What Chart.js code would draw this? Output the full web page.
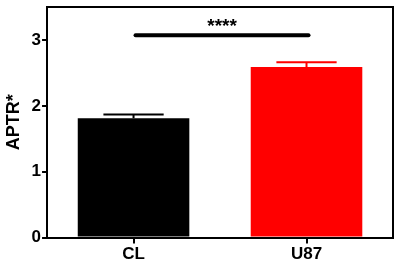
<!DOCTYPE html>
<html>
<head>
<meta charset="utf-8">
<script src="https://cdn.jsdelivr.net/npm/chart.js@4"></script>
<style>
  html, body { margin: 0; padding: 0; background: #fff; }
  #wrap { width: 400px; height: 266px; }
</style>
</head>
<body>
<div id="wrap"><canvas id="chartA"></canvas></div>
<script>
var groups = ['CL', 'U87'];
var means = [1.81, 2.59];
var errors = [0.06, 0.07];
var barColors = ['#000000', '#ff0000'];
var yTicks = [0, 1, 2, 3];
var sigLevel = 3.07;
var sigLabel = '****';

var fontFam = "Arial, 'Liberation Sans', sans-serif";

// error bars, significance bracket, box frame
var extras = {
  id: 'extras',
  afterDatasetsDraw: function (chart) {
    var c = chart.ctx;
    var area = chart.chartArea;
    var ys = chart.scales.y;
    var meta = chart.getDatasetMeta(0);
    c.save();
    meta.data.forEach(function (bar, i) {
      var top = ys.getPixelForValue(means[i] + errors[i]);
      var half = bar.width * 0.27;
      c.strokeStyle = barColors[i];
      c.lineWidth = 2;
      c.beginPath();
      c.moveTo(bar.x, bar.y);
      c.lineTo(bar.x, top);
      c.moveTo(bar.x - half, top);
      c.lineTo(bar.x + half, top);
      c.stroke();
    });
    var sy = ys.getPixelForValue(sigLevel);
    var x0 = meta.data[0].x, x1 = meta.data[1].x;
    c.strokeStyle = '#000';
    c.lineWidth = 4;
    c.lineCap = 'round';
    c.beginPath();
    c.moveTo(x0 + 2, sy);
    c.lineTo(x1 + 2, sy);
    c.stroke();
    c.fillStyle = '#000';
    c.font = 'bold 19px ' + fontFam;
    c.textAlign = 'center';
    c.textBaseline = 'alphabetic';
    c.fillText(sigLabel, (x0 + x1) / 2 + 2, sy - 3);
    c.lineCap = 'butt';
    c.lineWidth = 2;
    c.beginPath();
    c.moveTo(area.left, area.top);
    c.lineTo(area.right, area.top);
    c.lineTo(area.right, area.bottom);
    c.stroke();
    c.restore();
  }
};

var ctx = document.getElementById('chartA').getContext('2d');
var chartA = new Chart(ctx, {
  type: 'bar',
  data: {
    labels: groups,
    datasets: [{
      data: means,
      backgroundColor: barColors,
      borderWidth: 0,
      barPercentage: 0.645,
      categoryPercentage: 1
    }]
  },
  options: {
    responsive: true,
    maintainAspectRatio: false,
    animation: false,
    layout: { padding: { top: 7, right: 7, left: 3, bottom: 0 } },
    plugins: {
      legend: { display: false },
      tooltip: { enabled: false }
    },
    scales: {
      x: {
        border: { color: '#000', width: 2 },
        grid: { offset: false, drawOnChartArea: false, color: '#000', lineWidth: 2, tickLength: 6 },
        ticks: { color: '#000', font: { family: fontFam, size: 17, weight: 'bold' }, padding: 1 }
      },
      y: {
        min: 0,
        max: 3.5,
        afterBuildTicks: function (axis) {
          axis.ticks = yTicks.map(function (v) { return { value: v }; });
        },
        afterFit: function (axis) {
          axis.paddingTop = 0;
        },
        border: { color: '#000', width: 2 },
        grid: { drawOnChartArea: false, color: '#000', lineWidth: 2, tickLength: 5 },
        ticks: { color: '#000', font: { family: fontFam, size: 17, weight: 'bold' }, padding: 1 },
        title: {
          display: true,
          text: 'APTR*',
          color: '#000',
          font: { family: fontFam, size: 18, weight: 'bold' },
          padding: { top: 0, bottom: 6 }
        }
      }
    }
  },
  plugins: [extras]
});
</script>
</body>
</html>
